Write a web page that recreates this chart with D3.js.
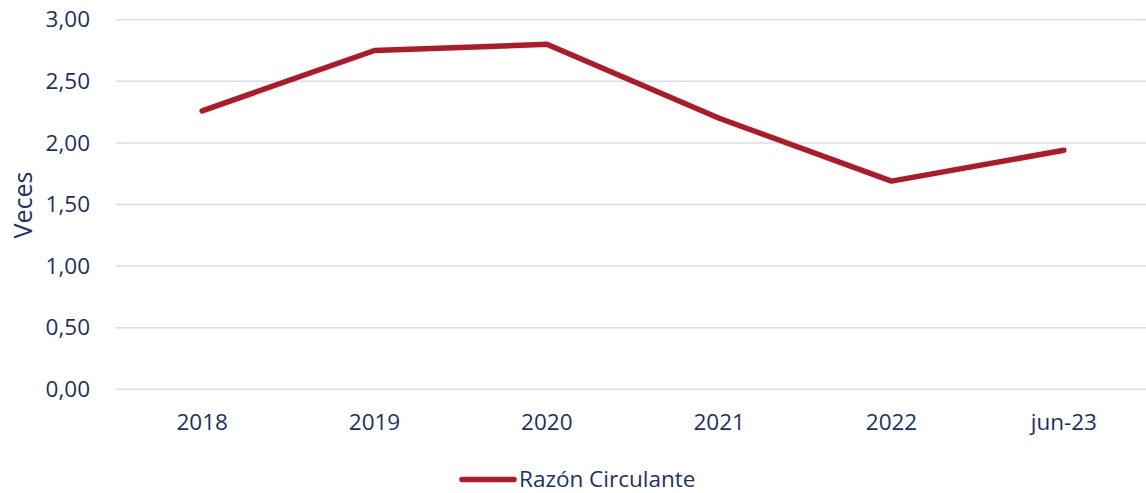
<!DOCTYPE html>
<html>
<head>
<meta charset="utf-8">
<script src="https://cdn.jsdelivr.net/npm/d3@7"></script>
<style>
  body { margin: 0; background: #fff; }
  svg text { font-family: "Open Sans", "Noto Sans", sans-serif; fill: #1b2f68; }
</style>
</head>
<body>
<div id="chart"></div>
<script>
const categories = ["2018", "2019", "2020", "2021", "2022", "jun-23"]
const razonCirculante = [2.26, 2.75, 2.80, 2.20, 1.69, 1.94]
const yTicks = [0, 0.5, 1, 1.5, 2, 2.5, 3]
const seriesName = "Razón Circulante"

const W = 1146, H = 493
const margin = { top: 20, right: 0, bottom: 103, left: 116 }
const width = W - margin.left - margin.right,
      height = 389.6 - margin.top

const svg = d3.select("#chart").append("svg")
  .attr("width", W)
  .attr("height", H)

const g = svg.append("g")
  .attr("transform", `translate(${margin.left},${margin.top - 0.3})`)

const x = d3.scaleBand()
  .domain(categories)
  .range([0, 1034])
  .padding(0)

const y = d3.scaleLinear()
  .domain([0, 3])
  .range([height, 0])

const fmt = v => d3.format(".2f")(v).replace(".", ",")

// gridlines
g.append("g")
  .selectAll("line")
  .data(yTicks)
  .enter()
  .append("line")
  .attr("x1", 0)
  .attr("x2", width)
  .attr("y1", d => y(d))
  .attr("y2", d => y(d))
  .attr("stroke", "#d9dcee")
  .attr("stroke-width", 1.5)

// y labels
const yAxis = g.append("g")
  .call(d3.axisLeft(y).tickValues(yTicks).tickFormat(fmt).tickSize(0).tickPadding(26))
yAxis.select(".domain").remove()
yAxis.selectAll("text")
  .style("font-size", "22.5px")
  .attr("fill", "#1b2f68")

// x labels
const xAxis = g.append("g")
  .attr("transform", `translate(0,${height})`)
  .call(d3.axisBottom(x).tickSize(0).tickPadding(25))
xAxis.select(".domain").remove()
xAxis.selectAll("text")
  .style("font-size", "22.5px")
  .attr("fill", "#1b2f68")

// y title
svg.append("text")
  .attr("transform", "rotate(-90)")
  .attr("x", -205)
  .attr("y", 32)
  .style("text-anchor", "middle")
  .style("font-size", "25px")
  .text("Veces")

// line
const line = d3.line()
  .x((d, i) => x(categories[i]) + x.bandwidth() / 2)
  .y(d => y(d))

g.append("path")
  .datum(razonCirculante)
  .attr("fill", "none")
  .attr("stroke", "#ae1a28")
  .attr("stroke-width", 5.5)
  .attr("stroke-linejoin", "round")
  .attr("stroke-linecap", "round")
  .attr("d", line)

// legend
const legend = svg.append("g").attr("transform", "translate(462,479.5)")
legend.append("line")
  .attr("x1", 0).attr("x2", 52)
  .attr("y1", 0).attr("y2", 0)
  .attr("stroke", "#ae1a28")
  .attr("stroke-width", 5.5)
  .attr("stroke-linecap", "round")
legend.append("text")
  .attr("x", 57)
  .attr("y", 7.5)
  .style("font-size", "22.5px")
  .text(seriesName)
</script>
</body>
</html>
